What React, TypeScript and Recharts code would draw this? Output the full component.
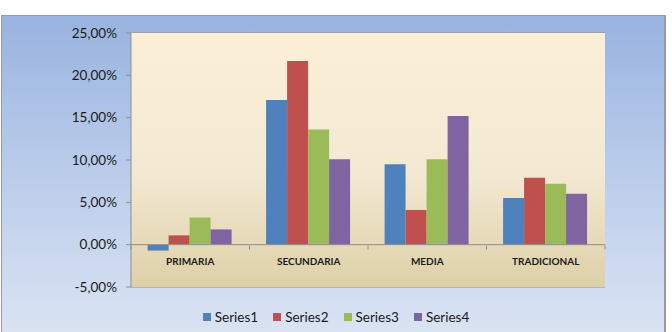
import React from "react";
import {
  BarChart,
  Bar,
  XAxis,
  YAxis,
  CartesianGrid,
  ReferenceArea,
  ReferenceLine,
} from "recharts";

// Percentages per level
const categories = ["PRIMARIA", "SECUNDARIA", "MEDIA", "TRADICIONAL"];
const series1 = [-0.7, 17.1, 9.5, 5.5];
const series2 = [1.1, 21.7, 4.1, 7.9];
const series3 = [3.2, 13.6, 10.1, 7.2];
const series4 = [1.8, 10.1, 15.2, 6.0];
const yTicks = [-5, 0, 5, 10, 15, 20, 25];

const seriesNames = ["Series1", "Series2", "Series3", "Series4"];
const seriesColors = ["#4f81bd", "#c0504d", "#9bbb59", "#8064a2"];

const data = categories.map((name, i) => ({
  name,
  Series1: series1[i],
  Series2: series2[i],
  Series3: series3[i],
  Series4: series4[i],
}));

const W = 672;
const H = 332;
const MARGIN = { top: 33, right: 67, left: 0, bottom: 15 };
const Y_WIDTH = 131;
const PLOT_H = 254;
const Y_MIN = -5;
const Y_MAX = 25;
const FONT = "Lato, 'Open Sans', sans-serif";

const fmt = (v: number) => `${v.toFixed(2).replace(".", ",")}%`;

// category labels sit just under the zero line, with boundary ticks on it
const CategoryTick = (props: any) => {
  const { x, y, payload, index, visibleTicksCount } = props;
  const zeroUp = (PLOT_H * (0 - Y_MIN)) / (Y_MAX - Y_MIN);
  const zeroY = Math.round(y - zeroUp) + 0.5;
  const band = (W - MARGIN.right - Y_WIDTH) / (visibleTicksCount || 4);
  return (
    <g>
      <line
        x1={x + band / 2}
        x2={x + band / 2}
        y1={zeroY}
        y2={zeroY + 4}
        stroke="#8c8c8c"
      />
      {index === 0 && (
        <line x1={x - band / 2} x2={x - band / 2} y1={zeroY} y2={zeroY + 4} stroke="#8c8c8c" />
      )}
      <text
        x={x}
        y={zeroY + 19.5}
        textAnchor="middle"
        fontFamily={FONT}
        fontWeight={700}
        fontSize={10}
        fill="#1a1a1a"
      >
        {payload.value}
      </text>
    </g>
  );
};

const ChartLegend = () => (
  <div
    style={{
      position: "absolute",
      left: 0,
      top: 308,
      width: W,
      display: "flex",
      justifyContent: "center",
      fontFamily: FONT,
      fontSize: 13.5,
      color: "#1a1a1a",
      lineHeight: "18px",
    }}
  >
    {seriesNames.map((s, i) => (
      <div key={s} style={{ display: "flex", alignItems: "center", marginRight: i < 3 ? 15 : 0 }}>
        <span
          style={{
            display: "inline-block",
            width: 8,
            height: 8,
            background: seriesColors[i],
            marginRight: 4,
          }}
        />
        {s}
      </div>
    ))}
  </div>
);

export default function App() {
  return (
    <div
      style={{
        position: "absolute",
        left: 0,
        top: 0,
        width: W,
        height: H,
        background: "#fff",
        overflow: "hidden",
      }}
    >
      <svg width={0} height={0} style={{ position: "absolute" }}>
        <defs>
          <linearGradient id="plotBg" x1="0" y1="0" x2="0" y2="1">
            <stop offset="0%" stopColor="#fdefd7" />
            <stop offset="55%" stopColor="#f3e9d3" />
            <stop offset="100%" stopColor="#ddd0a8" />
          </linearGradient>
        </defs>
      </svg>
      <div
        style={{
          position: "absolute",
          left: 1,
          top: 15,
          width: 662,
          height: 330,
          border: "1px solid #9a9a9a",
          borderRight: "2px solid #9a9a9a",
          background: "linear-gradient(to bottom, #98b3df 0%, #b9cbea 45%, #dce5f3 100%)",
        }}
      />
      <div style={{ position: "absolute", left: 0, top: 0 }}>
        <BarChart
          width={W}
          height={H}
          data={data}
          margin={MARGIN}
          barCategoryGap="14%"
          barGap={0}
        >
          <ReferenceArea y1={Y_MIN} y2={Y_MAX} fill="url(#plotBg)" fillOpacity={1} stroke="none" ifOverflow="visible" />
          <CartesianGrid vertical={false} stroke="#8f8f8f" />
          <YAxis
            width={Y_WIDTH}
            domain={[Y_MIN, Y_MAX]}
            ticks={yTicks}
            tickFormatter={fmt}
            axisLine={{ stroke: "#8f8f8f" }}
            tickLine={{ stroke: "#8f8f8f" }}
            tickSize={5}
            tickMargin={9}
            tick={{ fontFamily: FONT, fontSize: 13.5, fill: "#1a1a1a" }}
          />
          <XAxis
            dataKey="name"
            axisLine={false}
            tickLine={false}
            tickSize={0}
            tickMargin={0}
            interval={0}
            tick={<CategoryTick />}
          />
          <ReferenceLine y={0} stroke="#8f8f8f" />
          {seriesNames.map((s, i) => (
            <Bar key={s} dataKey={s} fill={seriesColors[i]} isAnimationActive={false} />
          ))}
        </BarChart>
      </div>
      <ChartLegend />
    </div>
  );
}
